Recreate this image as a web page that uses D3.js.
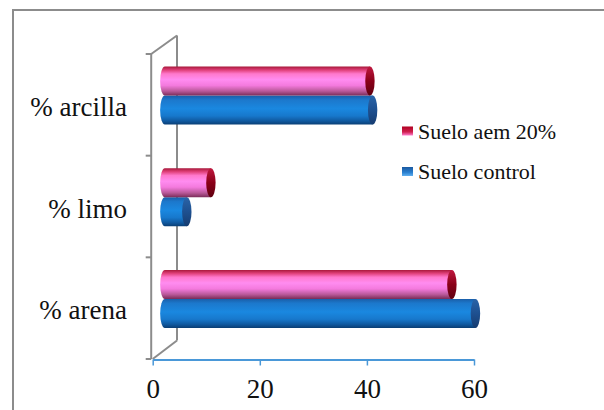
<!DOCTYPE html>
<html><head><meta charset="utf-8">
<script src="https://cdn.jsdelivr.net/npm/d3@7"></script>
<style>body{margin:0;background:#fff}svg{display:block}</style>
</head><body>
<svg id="c" width="604" height="410"></svg>
<script>
const categories = ["% arcilla", "% limo", "% arena"];
const seriesNames = ["Suelo aem 20%", "Suelo control"];
const aem = [38.3, 8.6, 53.6];
const control = [38.8, 4.1, 58.0];
const ticks = [0, 20, 40, 60];

const svg = d3.select("#c");
const font = '"Liberation Serif", serif';
const defs = svg.append("defs");

function grad(id, stops){
  const g = defs.append("linearGradient").attr("id", id).attr("x1",0).attr("y1",0).attr("x2",0).attr("y2",1);
  stops.forEach(s => g.append("stop").attr("offset", s[0]).attr("stop-color", s[1]));
}
grad("gPink", [[0,"#a8183a"],[0.12,"#e0407a"],[0.25,"#ff78cc"],[0.45,"#ff8cf0"],[0.65,"#f47ade"],[0.85,"#b85898"],[1,"#7a2c58"]]);
grad("gBlue", [[0,"#1a5ea8"],[0.15,"#1c78cc"],[0.45,"#1a88e0"],[0.7,"#1778cc"],[0.88,"#10589e"],[1,"#0a3e74"]]);
grad("gPinkCap", [[0,"#c01840"],[0.5,"#8a0018"],[1,"#600010"]]);
grad("gBlueCap", [[0,"#2a64a8"],[0.5,"#1e5090"],[1,"#163c70"]]);
grad("gPinkSw", [[0,"#b00020"],[0.6,"#d02050"],[1,"#ff80d0"]]);
grad("gBlueSw", [[0,"#1a58a0"],[0.6,"#2a80d0"],[1,"#60b0f0"]]);

// outer border
svg.append("rect").attr("x",13).attr("y",10).attr("width",640).attr("height",450)
  .attr("fill","none").attr("stroke","#8c8c8c").attr("stroke-width",2);

const x = d3.scaleLinear().domain([0,60]).range([152.7,474]);
const y = d3.scaleBand().domain(categories).range([54,359]).padding(0);
const dx = 24.3, dy = -18.5;       // depth of the 3D wall
const bx = dx/2, by = dy/2;         // bars sit at mid depth
const bh = 29, rx = 4.7;

// walls
const gray = "#8c8c8c";
const wall = svg.append("g").attr("stroke", gray).attr("stroke-width", 2).attr("fill","none");
wall.append("line").attr("x1", x(0)+dx).attr("x2", x(0)+dx).attr("y1", 54+dy).attr("y2", 359+dy);
wall.append("line").attr("x1", x(0)-1.5).attr("x2", x(0)+dx).attr("y1", 54).attr("y2", 54+dy);
wall.append("line").attr("x1", x(0)).attr("x2", x(0)+dx).attr("y1", 359).attr("y2", 359+dy);
wall.append("line").attr("x1", x(0)-1.5).attr("x2", x(0)-1.5).attr("y1", 54).attr("y2", 359);
const yTicks = categories.map(c => y(c)).concat([359]);
wall.selectAll("line.t").data(yTicks).join("line").attr("class","t")
  .attr("x1", x(0)-7).attr("x2", x(0)-1.5).attr("y1", d=>d).attr("y2", d=>d);

// bottom axis
const axisG = svg.append("g").attr("transform","translate(0,359.5)")
  .call(d3.axisBottom(x).tickValues(ticks).tickSize(6).tickSizeOuter(0).tickPadding(13.5));
axisG.attr("font-family", font).attr("font-size", 27);
axisG.select(".domain").attr("stroke","#4a98d8").attr("stroke-width",2);
axisG.selectAll(".tick line").attr("stroke","#4a98d8").attr("stroke-width",1.5);
axisG.selectAll(".tick text").attr("fill","#111");

// category labels
svg.append("g").attr("font-family", font).attr("font-size", 27)
  .selectAll("text").data(categories).join("text")
  .attr("x",127).attr("y", d => y(d)+y.bandwidth()/2 + 2)
  .attr("text-anchor","end").attr("dominant-baseline","central")
  .attr("fill","#111")
  .text(d=>d);

// cylinders
function cyl(g, v, top, fill, cap){
  const x0 = x(0)+bx, x1 = x(v)+bx, ry = bh/2;
  g.append("path").attr("d",
    `M${x0},${top} L${x1},${top} L${x1},${top+bh} L${x0},${top+bh} A${rx},${ry} 0 0 1 ${x0},${top} Z`)
    .attr("fill", `url(#${fill})`);
  g.append("ellipse").attr("cx", x1).attr("cy", top+ry).attr("rx", rx).attr("ry", ry)
    .attr("fill", `url(#${cap})`);
}
const bars = svg.append("g");
categories.forEach((c,i) => {
  const mid = y(c) + y.bandwidth()/2 + by;
  cyl(bars, control[i], mid, "gBlue", "gBlueCap");
  cyl(bars, aem[i], mid - bh, "gPink", "gPinkCap");
});

// legend
const legend = svg.append("g").attr("font-family", font).attr("font-size", 22);
const legY = [131, 171.5];
const legFill = ["gPinkSw","gBlueSw"];
seriesNames.forEach((s,i) => {
  legend.append("rect").attr("x",402).attr("y",legY[i]-4.5).attr("width",11).attr("height",9)
    .attr("fill",`url(#${legFill[i]})`);
  legend.append("text").attr("x",418).attr("y",legY[i]).attr("dominant-baseline","central")
    .attr("fill","#111").text(s);
});
</script>
</body></html>
